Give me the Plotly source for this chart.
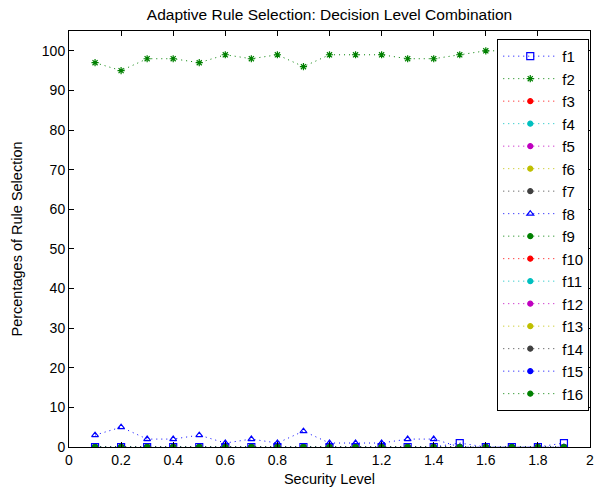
import plotly.graph_objects as go

security = [0.1, 0.2, 0.3, 0.4, 0.5, 0.6, 0.7, 0.8, 0.9, 1.0, 1.1, 1.2, 1.3, 1.4, 1.5, 1.6, 1.7, 1.8, 1.9]
f1 = [0, 0, 0, 0, 0, 0, 0, 0, 0, 0, 0, 0, 0, 0, 1, 0, 0, 0, 1]
f2 = [97, 95, 98, 98, 97, 99, 98, 99, 96, 99, 99, 99, 98, 98, 99, 100, 100, 100, 99]
f8 = [3, 5, 2, 2, 3, 1, 2, 1, 4, 1, 1, 1, 2, 2, 0, 0, 0, 0, 0]
zeros = [0] * 19

names = [f"f{i}" for i in range(1, 17)]
series = {n: zeros for n in names}
series["f1"] = f1
series["f2"] = f2
series["f8"] = f8

color_order = ["#0000FF", "#008000", "#FF0000", "#00BFBF", "#BF00BF", "#BFBF00", "#404040"]
x_ticks = [0, 0.2, 0.4, 0.6, 0.8, 1, 1.2, 1.4, 1.6, 1.8, 2]
x_tick_labels = ["0", "0.2", "0.4", "0.6", "0.8", "1", "1.2", "1.4", "1.6", "1.8", "2"]
y_ticks = list(range(0, 101, 10))

fig = go.Figure()
for i, n in enumerate(names):
    c = color_order[i % 7]
    if n == "f1":
        sym, size = "square-open", 7
    elif n == "f2":
        sym, size = "asterisk-open", 6
    elif n == "f8":
        sym, size = "triangle-up-open", 6
    else:
        sym, size = "circle", 5
    fig.add_trace(go.Scatter(
        x=security, y=series[n], name=n, mode="lines+markers",
        line=dict(color=c, width=1, dash="1px,4px"),
        marker=dict(symbol=sym, size=size, color=c, line=dict(color=c, width=1.2)),
    ))

font_family = "Liberation Sans, Arial"
axis_common = dict(
    showline=True, linecolor="black", linewidth=1, mirror="ticks",
    ticks="inside", ticklen=5, tickcolor="black", showgrid=False, zeroline=False,
    tickfont=dict(family=font_family, size=14, color="black"),
)
fig.update_xaxes(range=[0, 2], tickvals=x_ticks, ticktext=x_tick_labels,
                 title=dict(text="Security Level", font=dict(family=font_family, size=14.5, color="black"), standoff=7),
                 **axis_common)
fig.update_yaxes(range=[0, 105], tickvals=y_ticks,
                 title=dict(text="Percentages of Rule Selection", font=dict(family=font_family, size=14.5, color="black"), standoff=15),
                 **axis_common)

fig.update_layout(
    width=602, height=497,
    margin=dict(l=69, r=8, t=31, b=50),
    paper_bgcolor="white", plot_bgcolor="white",
    title=dict(text="Adaptive Rule Selection: Decision Level Combination",
               x=0.5, xref="paper", y=1 - 15 / 497, yanchor="middle",
               font=dict(family=font_family, size=15.5, color="black")),
    legend=dict(x=0.822, y=0.981, xanchor="left", yanchor="top",
                bgcolor="white", bordercolor="black", borderwidth=1,
                font=dict(family=font_family, size=15, color="black"),
                tracegroupgap=0, itemwidth=54),
    showlegend=True,
)

fig.write_html("out.html", config={"displayModeBar": False},
               post_script="document.body.style.margin='0';")
